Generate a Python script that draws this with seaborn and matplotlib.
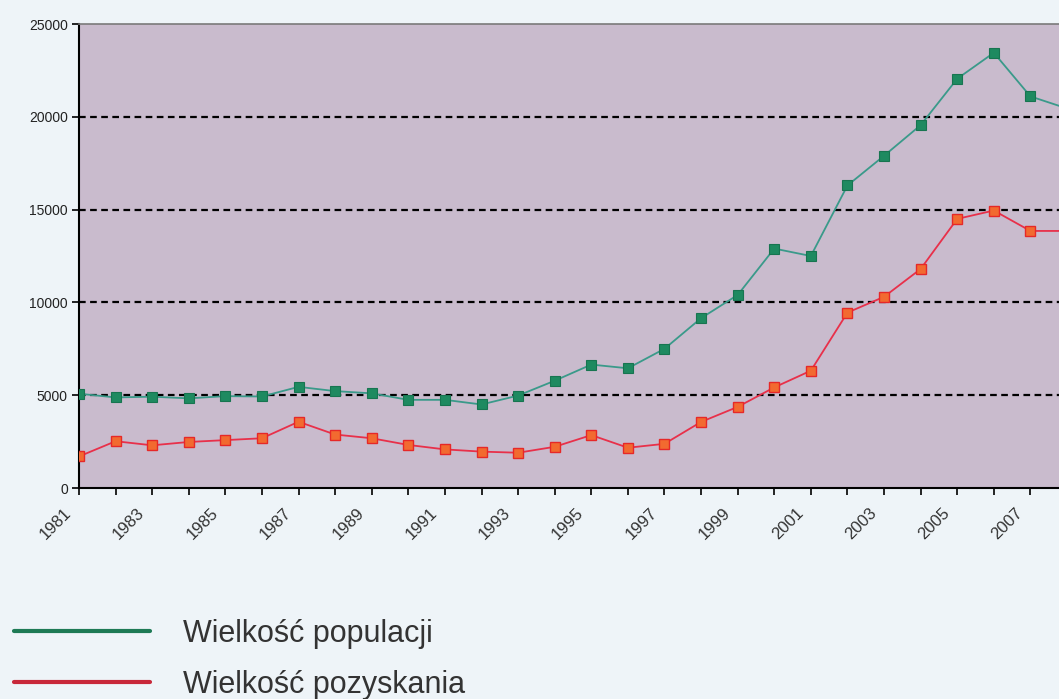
import matplotlib
matplotlib.use("Agg")
import matplotlib.pyplot as plt
from matplotlib.lines import Line2D
from matplotlib.transforms import ScaledTranslation
import seaborn as sns
import pandas as pd

years = list(range(1981, 2009))
populacja = [5080, 4880, 4920, 4830, 4950, 4930, 5450, 5220, 5100, 4750,
             4750, 4500, 4980, 5780, 6650, 6450, 7500, 9150, 10400, 12900,
             12500, 16300, 17900, 19550, 22050, 23450, 21100, 20450]
pozyskanie = [1700, 2520, 2300, 2480, 2580, 2680, 3570, 2880, 2680, 2320,
              2080, 1960, 1900, 2220, 2850, 2170, 2380, 3560, 4370, 5420,
              6320, 9450, 10300, 11800, 14500, 14950, 13850, 13850]
label_years = list(range(1981, 2008, 2))
y_ticks = [0, 5000, 10000, 15000, 20000, 25000]
series_names = ["Wielkość populacji", "Wielkość pozyskania"]

df = pd.DataFrame({"rok": years, "pop": populacja, "poz": pozyskanie})

sns.set_theme(style="white")
plt.rcParams["font.family"] = ["Liberation Sans", "DejaVu Sans"]

fig = plt.figure(figsize=(10.59, 6.99), dpi=100, facecolor="#EEF4F8")
ax = fig.add_axes([79/1059, (699-488)/699, (1067-79)/1059, (488-24)/699])
ax.set_facecolor("#C9BBCD")

sns.lineplot(data=df, x="rok", y="pop", ax=ax, color="#3A9A8A", lw=1.3,
             marker="s", markersize=7.5, markerfacecolor="#1E8A60",
             markeredgecolor="#177550", markeredgewidth=0.8, zorder=4)
sns.lineplot(data=df, x="rok", y="poz", ax=ax, color="#E8304A", lw=1.3,
             marker="s", markersize=7.5, markerfacecolor="#F26A30",
             markeredgecolor="#E62828", markeredgewidth=1.0, zorder=4)

ax.set_xlim(1981, 2008)
ax.set_ylim(0, 25000)
ax.set_xticks(years)
ax.set_xticklabels([str(y) if y in label_years else "" for y in years])
ax.set_yticks(y_ticks)
ax.set_yticklabels([str(v) for v in y_ticks])
ax.set_xlabel("")
ax.set_ylabel("")

ax.tick_params(axis="y", which="major", direction="out", length=5, width=1.2,
               color="black", labelsize=10, pad=3, labelcolor="#222222",
               left=True)
ax.tick_params(axis="x", which="major", direction="out", length=5, width=1.2,
               color="black", labelsize=12, pad=4, labelcolor="#333333",
               bottom=True)
shift = ScaledTranslation(-10/100, -10/100, fig.dpi_scale_trans)
for lab in ax.get_xticklabels():
    lab.set_rotation(45)
    lab.set_ha("right")
    lab.set_va("center")
    lab.set_rotation_mode("anchor")
    lab.set_transform(lab.get_transform() + shift)

ax.yaxis.grid(True, color="black", linestyle=(0, (3, 2)), linewidth=1.6)
ax.xaxis.grid(False)
ax.set_axisbelow(True)
for tick, loc in zip(ax.yaxis.get_major_ticks(), y_ticks):
    if loc in (0, 25000):
        tick.gridline.set_visible(False)

for side in ["left", "bottom"]:
    ax.spines[side].set_color("black")
    ax.spines[side].set_linewidth(1.5)
ax.spines["top"].set_color("#7A7A7A")
ax.spines["top"].set_linewidth(1.2)
ax.spines["right"].set_visible(False)

handles = [Line2D([], [], color="#1E7A55", lw=3),
           Line2D([], [], color="#C8283A", lw=3)]
fig.legend(handles, series_names, loc="upper left",
           bbox_to_anchor=(14/1059, (699-619)/699), frameon=False,
           fontsize=22, handlelength=4.45, handletextpad=1.08,
           labelspacing=0.68, borderpad=0, borderaxespad=0,
           labelcolor="#333333")

fig.savefig("out.png", dpi=100, facecolor=fig.get_facecolor())
